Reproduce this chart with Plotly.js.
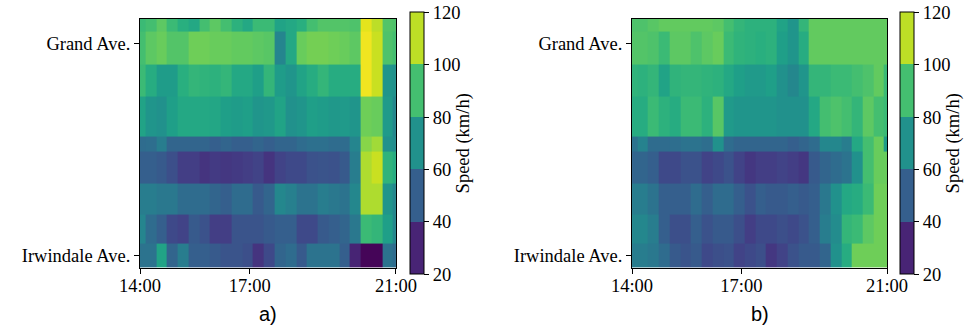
<!DOCTYPE html>
<html>
<head>
<meta charset="utf-8">
<script src="https://cdn.plot.ly/plotly-3.0.1.min.js"></script>
<style>html,body{margin:0;padding:0;background:#fff;}#chart{width:977px;height:333px;}</style>
</head>
<body>
<div id="chart"></div>
<script>
// Sample times, minutes after midnight (cell centres)
const sampleMinutes = [840, 857.7, 875.3, 893, 910.7, 928.3, 946, 963.7, 981.3, 999, 1016.7, 1034.3, 1052, 1069.7, 1087.3, 1105, 1122.7, 1140.3, 1158, 1175.7, 1193.3, 1211, 1228.7, 1246.3, 1264];
// Sensor segment edges along the corridor (relative distance, Irwindale = 0 side)
const segmentEdges = [0, 9.83, 21.18, 33.9, 46.8, 52.59, 68.63, 81.63, 94.7, 100];
const locationTicks = [4.85, 90.05];
const locationLabels = ['Irwindale Ave.', 'Grand Ave.'];
const timeTicks = [840, 1020, 1260];
const timeLabels = ['14:00', '17:00', '21:00'];
const speedTicks = [20, 40, 60, 80, 100, 120];

// Speeds (km/h), rows listed from Grand Ave. (top) down to Irwindale Ave. (bottom)
const speedA = [
  [88,90,95,88,83,80,90,95,90,84,80,88,88,78,80,83,90,93,93,93,92,116,110,93,92],
  [90,95,97,93,93,98,98,97,97,96,96,95,94,65,80,97,99,99,98,97,95,118,112,92,90],
  [88,82,75,75,83,86,85,84,86,80,80,76,86,75,72,78,82,86,82,82,82,118,112,72,70],
  [78,72,70,76,80,80,80,79,76,75,76,72,73,78,70,72,76,75,73,74,72,98,97,74,66],
  [55,56,62,52,52,52,52,50,52,50,50,52,50,52,52,55,57,57,55,55,65,102,106,70,68],
  [50,50,48,44,38,38,35,37,36,37,38,40,35,40,42,42,45,46,45,48,62,108,112,85,82],
  [62,62,60,60,55,55,55,52,50,55,55,48,52,66,63,58,58,62,60,58,66,108,108,72,66],
  [65,55,50,42,40,48,45,38,38,46,46,46,48,50,50,42,42,48,50,52,60,88,86,76,66],
  [58,58,78,52,62,50,50,48,46,46,44,35,42,52,55,48,58,58,58,50,30,21,21,58,55]
];
const speedB = [
  [92,92,94,96,96,96,96,96,95,90,86,84,84,84,78,72,86,96,96,96,96,96,96,96,96],
  [93,93,92,88,95,95,92,95,97,88,85,84,83,84,76,72,82,96,96,96,96,96,96,96,96],
  [85,84,86,78,85,86,86,85,84,80,76,74,74,76,70,66,72,86,86,88,88,90,92,96,88],
  [82,82,88,84,82,88,88,84,94,74,72,72,72,72,70,70,70,80,90,92,90,86,95,90,88],
  [58,64,55,55,56,58,58,56,70,55,52,52,52,52,52,50,52,55,66,66,62,80,90,97,75],
  [52,52,50,42,42,45,45,40,42,45,40,36,38,38,40,38,36,48,52,55,58,70,90,97,97],
  [62,62,58,50,50,50,55,50,55,55,50,45,50,48,48,50,48,50,60,70,80,82,88,98,98],
  [66,66,62,50,44,44,50,45,48,48,44,38,42,42,44,42,45,50,62,68,86,88,95,98,98],
  [62,62,60,55,48,46,48,42,44,45,40,42,44,36,40,45,48,48,52,70,82,98,98,98,98]
];

const viridis = [[0,'#440154'],[0.0627,'#48186a'],[0.1255,'#472d7b'],[0.1882,'#424086'],[0.251,'#3b528b'],[0.3137,'#33638d'],[0.3765,'#2c728e'],[0.4392,'#26828e'],[0.502,'#21918c'],[0.5647,'#1fa088'],[0.6275,'#28ae80'],[0.6902,'#3fbc73'],[0.7529,'#5ec962'],[0.8157,'#84d44b'],[0.8784,'#addc30'],[0.9412,'#d8e219'],[1,'#fde725']];
const binColors = ['#482475','#355f8d','#21918c','#44bf70','#bddf26'];
const discrete = [];
binColors.forEach((c, i) => { discrete.push([i/5, c]); discrete.push([(i+1)/5, c]); });

const serif = 'Liberation Serif, Times New Roman, serif';
const tickFont = {family: serif, size: 18.5, color: '#000'};

function heat(z, xa, ya) {
  return {type: 'heatmap', x: sampleMinutes, y: segmentEdges, z: z.slice().reverse(),
    xaxis: xa, yaxis: ya, colorscale: viridis, zmin: 20, zmax: 120, zsmooth: false,
    showscale: false, hoverinfo: 'skip'};
}
function bar(xa, ya, xpos) {
  return {type: 'scatter', mode: 'markers', x: [null], y: [null], xaxis: xa, yaxis: ya,
    hoverinfo: 'skip', showlegend: false,
    marker: {color: [20], cmin: 20, cmax: 120, colorscale: discrete, showscale: true,
      colorbar: {x: xpos, xanchor: 'left', xpad: 0, ypad: 0, y: 0.5697, yanchor: 'middle',
        len: 0.787, lenmode: 'fraction', thickness: 14, outlinewidth: 1, outlinecolor: '#000',
        tickmode: 'array', tickvals: speedTicks, ticktext: speedTicks.map(String),
        ticks: 'outside', ticklen: 5, tickcolor: '#000', tickfont: tickFont,
        title: {text: 'Speed (km/h)', side: 'right', font: tickFont}}}};
}
function xax(domain) {
  return {domain: domain, range: [840, 1260], tickmode: 'array', tickvals: timeTicks, ticktext: timeLabels,
    ticks: 'outside', ticklen: 5, tickcolor: '#000', tickfont: tickFont, ticklabelstandoff: -4,
    showgrid: false, zeroline: false,
    showline: true, mirror: true, linecolor: '#000', linewidth: 1};
}
function yax(anchor) {
  return {domain: [0.1958, 0.9444], range: [0, 100], anchor: anchor, tickmode: 'array', tickvals: locationTicks,
    ticktext: locationLabels, ticks: 'outside', ticklen: 5, tickcolor: '#000', tickfont: tickFont,
    showgrid: false, zeroline: false, showline: true, mirror: true, linecolor: '#000', linewidth: 1};
}

const data = [heat(speedA, 'x', 'y'), heat(speedB, 'x2', 'y2'), bar('x', 'y', 0.4197), bar('x2', 'y2', 0.9212)];
const layout = {
  width: 977, height: 333, margin: {l: 0, r: 0, t: 0, b: 0},
  paper_bgcolor: '#fff', plot_bgcolor: '#fff', showlegend: false,
  xaxis: Object.assign(xax([0.1433, 0.4053]), {anchor: 'y'}),
  yaxis: yax('x'),
  xaxis2: Object.assign(xax([0.6469, 0.9079]), {anchor: 'y2'}),
  yaxis2: yax('x2'),
  annotations: [
    {text: 'a)', xref: 'paper', yref: 'paper', x: 0.2743, y: (333-314)/333, showarrow: false,
     xanchor: 'center', yanchor: 'middle', font: {family: 'Liberation Sans, Arial, sans-serif', size: 20, color: '#000'}},
    {text: 'b)', xref: 'paper', yref: 'paper', x: 0.7774, y: (333-314)/333, showarrow: false,
     xanchor: 'center', yanchor: 'middle', font: {family: 'Liberation Sans, Arial, sans-serif', size: 20, color: '#000'}}
  ]
};
Plotly.newPlot('chart', data, layout, {staticPlot: true, displayModeBar: false});
</script>
</body>
</html>
